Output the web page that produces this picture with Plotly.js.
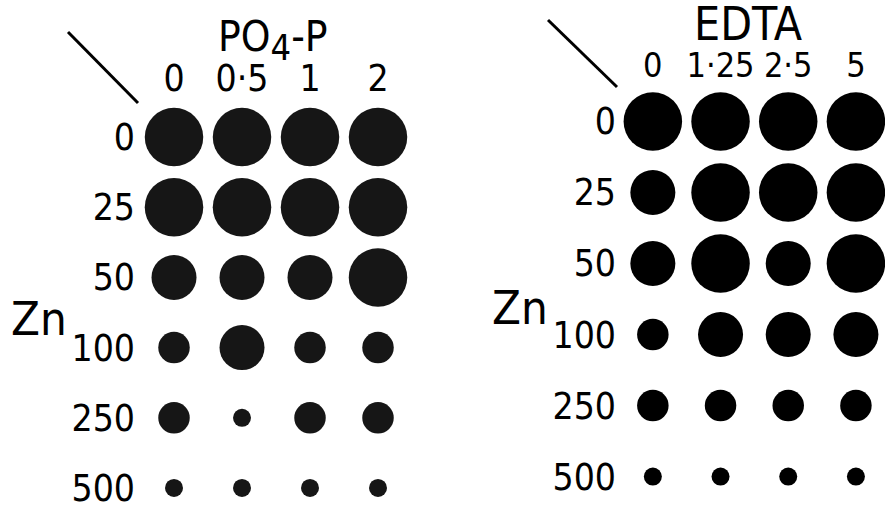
<!DOCTYPE html>
<html>
<head>
<meta charset="utf-8">
<script src="https://cdn.plot.ly/plotly-3.0.1.min.js"></script>
<style>
  html, body { margin: 0; padding: 0; background: #fff; }
  #chart { width: 885px; height: 517px; }
</style>
</head>
<body>
<div id="chart"></div>
<script>
// growth scores (1 = smallest dot, 4 = largest)
const znLevels = ['0', '25', '50', '100', '250', '500'];
const phosLevels = ['0', '0·5', '1', '2'];
const edtaLevels = ['0', '1·25', '2·5', '5'];

const phosScores = [
  [4, 4, 4, 4],
  [4, 4, 4, 4],
  [3, 3, 3, 4],
  [2, 3, 2, 2],
  [2, 1, 2, 2],
  [1, 1, 1, 1]
];
const edtaScores = [
  [4, 4, 4, 4],
  [3, 4, 4, 4],
  [3, 4, 3, 4],
  [2, 3, 3, 3],
  [2, 2, 2, 2],
  [1, 1, 1, 1]
];

const W = 885, H = 517;
const px = x => x / W;
const py = y => 1 - y / H;
const FONT = '"DejaVu Sans Condensed", "Liberation Sans", sans-serif';

// score -> dot diameter in px
const dotSize = s => 4.5 + 13.5 * s;

function gridTrace(scores, xa, ya, color) {
  const x = [], y = [], size = [];
  scores.forEach((row, i) => {
    row.forEach((s, j) => {
      x.push(j);
      y.push(i);
      size.push(dotSize(s));
    });
  });
  return {
    type: 'scatter',
    mode: 'markers',
    x: x, y: y,
    xaxis: xa, yaxis: ya,
    cliponaxis: false,
    hoverinfo: 'skip',
    marker: { size: size, color: color, opacity: 1, line: { width: 0 } }
  };
}

const traces = [
  gridTrace(phosScores, 'x', 'y', '#161616'),
  gridTrace(edtaScores, 'x2', 'y2', '#000')
];

const axBase = {
  showgrid: false, zeroline: false, showline: false,
  ticks: '', fixedrange: true, tickangle: 0,
  tickfont: { family: FONT, size: 37, color: '#000' }
};

const layout = {
  width: W, height: H,
  margin: { l: 0, r: 0, t: 0, b: 0 },
  paper_bgcolor: '#fff',
  plot_bgcolor: 'rgba(0,0,0,0)',
  showlegend: false,
  xaxis: Object.assign({}, axBase, {
    domain: [px(140), px(412)], range: [-0.5, 3.5],
    side: 'top', tickvals: [0, 1, 2, 3], ticktext: phosLevels,
    ticklabelstandoff: 3, anchor: 'y'
  }),
  yaxis: Object.assign({}, axBase, {
    domain: [py(509), py(102)], range: [5.3, -0.5],
    tickvals: [0, 1, 2, 3, 4, 5], ticktext: znLevels,
    ticklabelstandoff: 4, anchor: 'x'
  }),
  xaxis2: Object.assign({}, axBase, {
    domain: [px(619), px(883)], range: [-0.5, 3.4],
    side: 'top', tickvals: [0, 1, 2, 3], ticktext: edtaLevels,
    ticklabelstandoff: 1, anchor: 'y2',
    tickfont: { family: FONT, size: 34, color: '#000' }
  }),
  yaxis2: Object.assign({}, axBase, {
    domain: [py(505), py(86)], range: [5.4, -0.5],
    tickvals: [0, 1, 2, 3, 4, 5], ticktext: znLevels,
    ticklabelstandoff: 2, anchor: 'x2'
  }),
  annotations: [
    { text: 'PO<sub><span style="font-size:36px">4</span></sub>-P', xref: 'paper', yref: 'paper',
      x: px(273), y: py(40), xanchor: 'center', yanchor: 'middle', showarrow: false,
      font: { family: FONT, size: 42, color: '#000' } },
    { text: 'EDTA', xref: 'paper', yref: 'paper', x: px(748), y: py(24),
      xanchor: 'center', yanchor: 'middle', showarrow: false,
      font: { family: FONT, size: 46, color: '#000' } },
    { text: 'Zn', xref: 'paper', yref: 'paper', x: px(39), y: py(318),
      xanchor: 'center', yanchor: 'middle', showarrow: false,
      font: { family: FONT, size: 47, color: '#000' } },
    { text: 'Zn', xref: 'paper', yref: 'paper', x: px(520), y: py(307),
      xanchor: 'center', yanchor: 'middle', showarrow: false,
      font: { family: FONT, size: 47, color: '#000' } }
  ],
  shapes: [
    { type: 'line', xref: 'paper', yref: 'paper', x0: px(68), y0: py(32), x1: px(138), y1: py(103),
      line: { color: '#000', width: 3 } },
    { type: 'line', xref: 'paper', yref: 'paper', x0: px(548), y0: py(20), x1: px(617), y1: py(87),
      line: { color: '#000', width: 3 } }
  ]
};

Plotly.newPlot('chart', traces, layout, { staticPlot: true, displayModeBar: false });
</script>
</body>
</html>
